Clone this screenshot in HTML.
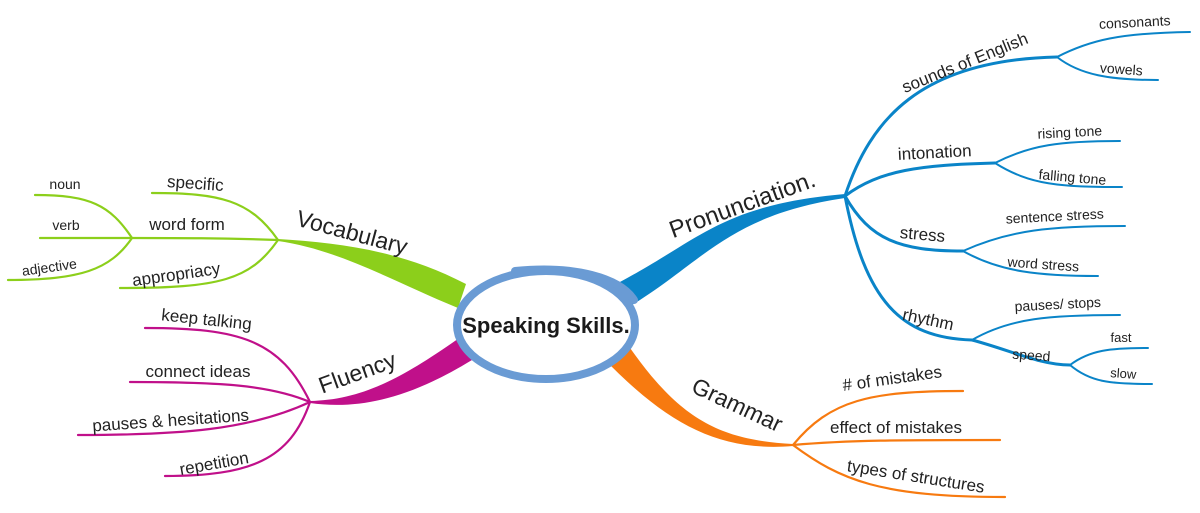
<!DOCTYPE html>
<html><head><meta charset="utf-8"><style>
html,body{margin:0;padding:0;background:#fff;width:1200px;height:513px;overflow:hidden}
text{font-family:"Liberation Sans",Arial,sans-serif;fill:#222}
</style></head><body>
<svg width="1200" height="513" viewBox="0 0 1200 513" xmlns="http://www.w3.org/2000/svg">
<path d="M618,283 C700,240 720,205 845,194 L845,198 C730,215 705,260 632,305 Z" fill="#0a84c8"/>
<path d="M466,284 C400,250 340,243 278,239 L278,241 C340,250 390,280 458,308 Z" fill="#8ccf1b"/>
<path d="M462,336 C400,380 360,400 310,401 L310,403 C360,410 410,398 472,360 Z" fill="#c0108a"/>
<path d="M628,345 C680,420 720,440 793,444 L793,446 C720,452 670,425 610,365 Z" fill="#f77a10"/>

<g fill="none" stroke-linecap="round">
<g stroke="#0a84c8" stroke-width="3">
<path d="M845,196 C870,120 920,60 1057,57"/>
<path d="M845,196 C880,170 920,165 995,163"/>
<path d="M845,196 C870,240 900,251 963,251"/>
<path d="M845,196 C865,300 900,338 972,340"/>
<path d="M972,340 C1010,350 1040,365 1070,365"/>
</g>
<g stroke="#0a84c8" stroke-width="2">
<path d="M1057,57 C1090,40 1120,33 1190,32"/>
<path d="M1057,57 C1080,75 1110,80 1158,80"/>
<path d="M995,163 C1030,145 1060,141 1120,141"/>
<path d="M995,163 C1030,185 1060,187 1122,187"/>
<path d="M963,251 C1010,230 1050,226 1125,226"/>
<path d="M963,251 C1000,272 1040,276 1098,276"/>
<path d="M972,340 C1010,318 1050,315 1120,315"/>
<path d="M1070,365 C1090,350 1110,348 1148,348"/>
<path d="M1070,365 C1090,382 1110,384 1152,384"/>
</g>
<g stroke="#f77a10" stroke-width="2.2">
<path d="M793,445 C830,400 870,391 963,391"/>
<path d="M793,445 C850,440 900,440 1000,440"/>
<path d="M793,445 C840,480 880,497 1005,497"/>
</g>
<g stroke="#8ccf1b" stroke-width="2.2">
<path d="M278,240 C250,200 220,193 152,193"/>
<path d="M278,240 C220,238 180,238 132,238"/>
<path d="M278,240 C250,280 220,288 120,288"/>
<path d="M132,238 C110,205 90,195 35,195"/>
<path d="M132,238 C100,238 70,238 40,238"/>
<path d="M132,238 C110,270 80,280 8,280"/>
</g>
<g stroke="#c0108a" stroke-width="2.2">
<path d="M310,402 C280,340 240,328 145,328"/>
<path d="M310,402 C270,385 220,382 130,382"/>
<path d="M310,402 C250,430 180,435 78,435"/>
<path d="M310,402 C290,460 250,476 165,476"/>
</g>
</g>

<ellipse cx="546" cy="325" rx="89" ry="54" fill="#fff" stroke="#6a9bd4" stroke-width="8"/>
<path d="M515,271 C575,265 620,278 634,300" fill="none" stroke="#6a9bd4" stroke-width="8" stroke-linecap="round"/>
<text x="546" y="333" font-size="22" font-weight="bold" text-anchor="middle" style="fill:#1a1a1a">Speaking Skills.</text>

<text x="745" y="212" font-size="24" text-anchor="middle" transform="rotate(-20 745 212)">Pronunciation.</text>
<text x="350" y="240" font-size="23" text-anchor="middle" transform="rotate(15 350 240)">Vocabulary</text>
<text x="360" y="380" font-size="23" text-anchor="middle" transform="rotate(-20 360 380)">Fluency</text>
<text x="734" y="412" font-size="23" text-anchor="middle" transform="rotate(25 734 412)">Grammar</text>

<text x="967" y="68" font-size="17" text-anchor="middle" transform="rotate(-22 967 68)">sounds of English</text>
<text x="935" y="158" font-size="17" text-anchor="middle" transform="rotate(-3 935 158)">intonation</text>
<text x="922" y="240" font-size="17" text-anchor="middle" transform="rotate(5 922 240)">stress</text>
<text x="927" y="325" font-size="17" text-anchor="middle" transform="rotate(12 927 325)">rhythm</text>
<text x="1031" y="360" font-size="14" text-anchor="middle" transform="rotate(4 1031 360)">speed</text>
<text x="1135" y="27" font-size="14" text-anchor="middle" transform="rotate(-3 1135 27)">consonants</text>
<text x="1121" y="74" font-size="14" text-anchor="middle" transform="rotate(4 1121 74)">vowels</text>
<text x="1070" y="137" font-size="14" text-anchor="middle" transform="rotate(-3 1070 137)">rising tone</text>
<text x="1072" y="182" font-size="14" text-anchor="middle" transform="rotate(5 1072 182)">falling tone</text>
<text x="1055" y="221" font-size="14" text-anchor="middle" transform="rotate(-3 1055 221)">sentence stress</text>
<text x="1043" y="269" font-size="14" text-anchor="middle" transform="rotate(4 1043 269)">word stress</text>
<text x="1058" y="309" font-size="14" text-anchor="middle" transform="rotate(-3 1058 309)">pauses/ stops</text>
<text x="1121" y="342" font-size="13" text-anchor="middle">fast</text>
<text x="1123" y="378" font-size="13" text-anchor="middle" transform="rotate(4 1123 378)">slow</text>

<text x="893" y="384" font-size="17" text-anchor="middle" transform="rotate(-8 893 384)"># of mistakes</text>
<text x="896" y="433" font-size="17" text-anchor="middle">effect of mistakes</text>
<text x="915" y="482" font-size="17" text-anchor="middle" transform="rotate(9 915 482)">types of structures</text>

<text x="195" y="189" font-size="17" text-anchor="middle" transform="rotate(4 195 189)">specific</text>
<text x="187" y="230" font-size="17" text-anchor="middle">word form</text>
<text x="177" y="280" font-size="17" text-anchor="middle" transform="rotate(-8 177 280)">appropriacy</text>
<text x="65" y="189" font-size="14" text-anchor="middle">noun</text>
<text x="66" y="230" font-size="14" text-anchor="middle">verb</text>
<text x="50" y="272" font-size="14" text-anchor="middle" transform="rotate(-8 50 272)">adjective</text>

<text x="206" y="325" font-size="17" text-anchor="middle" transform="rotate(6 206 325)">keep talking</text>
<text x="198" y="377" font-size="17" text-anchor="middle">connect ideas</text>
<text x="171" y="426" font-size="17" text-anchor="middle" transform="rotate(-4 171 426)">pauses &amp; hesitations</text>
<text x="215" y="469" font-size="17" text-anchor="middle" transform="rotate(-10 215 469)">repetition</text>
</svg>
</body></html>
